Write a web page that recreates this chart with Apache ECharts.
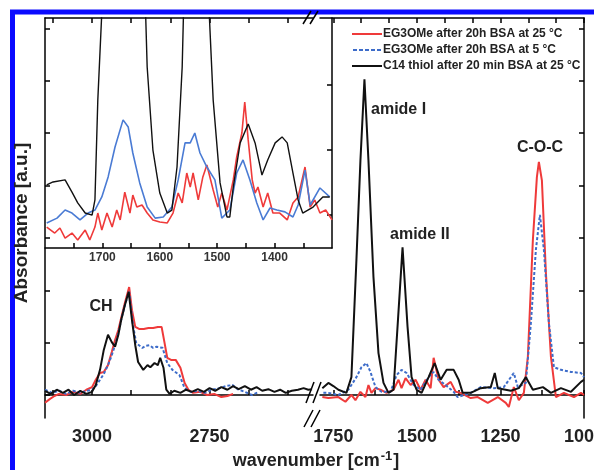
<!DOCTYPE html>
<html>
<head>
<meta charset="utf-8">
<script src="https://cdn.jsdelivr.net/npm/echarts@6/dist/echarts.min.js"></script>
<style>
  html, body { margin: 0; padding: 0; background: #fff; }
  #chart { width: 594px; height: 470px; }
</style>
</head>
<body>
<div id="chart"></div>
<script>
// IR spectra, broken wavenumber axis + inset of the amide region
var FONT = "'Liberation Sans', Arial, sans-serif";
var RED = '#ef3a3a', BLUE = '#3d6cc9', BLACK = '#111111';

var seriesNames = ['EG3OMe after 20h BSA at 25 °C', 'EG3OMe after 20h BSA at 5 °C', 'C14 thiol after 20 min BSA at 25 °C'];

// main plot, CH stretch region  [wavenumber, absorbance]
var redCH = [[3100,-0.15],[3090,-0.08],[3080,-0.02],[3070,0.02],[3055,0],[3040,0.06],[3025,0.02],[3012,0.1],[3000,0.15],[2992,0.29],[2983,0.42],[2975,0.44],[2966,0.57],[2958,0.82],[2951,1.05],[2944,1.24],[2938,1.47],[2930,1.76],[2921,2.06],[2915,1.62],[2908,1.3],[2900,1.26],[2890,1.26],[2880,1.28],[2870,1.28],[2860,1.3],[2852,1.3],[2846,1.01],[2840,0.71],[2832,0.67],[2822,0.67],[2812,0.52],[2803,0.23],[2795,0.1],[2785,0.04],[2770,0.06],[2755,0],[2740,0.02],[2725,-0.04],[2712,-0.02],[2700,0.02]];
var blueCH = [[3100,0.1],[3085,0.04],[3070,0.08],[3055,0.02],[3040,0.08],[3025,0.04],[3010,0.08],[3000,0.1],[2992,0.17],[2983,0.29],[2975,0.4],[2966,0.57],[2958,0.76],[2951,0.95],[2944,1.18],[2938,1.43],[2930,1.72],[2921,1.97],[2913,1.34],[2906,0.99],[2893,0.9],[2885,0.94],[2878,0.95],[2870,0.9],[2863,0.92],[2850,0.9],[2840,0.61],[2829,0.48],[2814,0.38],[2803,0.13],[2790,0.06],[2775,0.08],[2760,0.04],[2745,0.1],[2730,0.13],[2715,0.17],[2701,0.19],[2690,0.11],[2675,0.06],[2660,0],[2645,0.06]];
var blackCH = [[3100,0.08],[3088,0.02],[3075,0.1],[3062,0.04],[3050,0.1],[3038,0],[3025,0.08],[3012,0.02],[3000,0.06],[2992,0.19],[2983,0.48],[2975,0.86],[2966,1.15],[2958,1.01],[2951,0.92],[2944,1.15],[2938,1.43],[2930,1.72],[2922,1.97],[2915,1.43],[2908,0.95],[2902,0.63],[2891,0.48],[2882,0.57],[2876,0.53],[2867,0.61],[2860,0.57],[2855,0.71],[2848,0.52],[2842,0.1],[2835,0.02],[2825,0.08],[2812,0.04],[2800,0.1],[2788,0.06],[2775,0.11],[2762,0.06],[2750,0.13],[2738,0.08],[2725,0.15],[2712,0.1],[2700,0.17],[2688,0.11],[2675,0.17],[2662,0.1],[2650,0.15],[2638,0.08],[2625,0.11],[2612,0.06],[2600,0.1],[2588,0.04],[2575,0.08],[2562,0.1],[2550,0.13],[2540,0.1],[2532,0.11]];

// main plot, fingerprint region
var redFP = [[1783,-0.04],[1765,-0.06],[1735,-0.04],[1714,-0.13],[1696,0],[1684,-0.1],[1669,0.06],[1654,-0.04],[1645,0.19],[1636,0.04],[1624,0.13],[1609,0.1],[1591,0.04],[1570,0.1],[1555,0.29],[1546,0.13],[1534,0.32],[1519,0.19],[1504,0.29],[1489,0.1],[1474,0.29],[1459,0.13],[1450,0.71],[1435,0.29],[1420,0.15],[1399,0.25],[1384,0.06],[1369,0.04],[1339,-0.06],[1318,-0.04],[1288,-0.15],[1258,-0.04],[1234,-0.15],[1225,-0.23],[1210,0.15],[1195,-0.1],[1180,0.04],[1168,0.73],[1153,2.96],[1141,4.16],[1135,4.45],[1126,4.1],[1114,2.33],[1099,0.73],[1084,-0.04],[1060,0.04],[1030,-0.04],[1009,0.04],[1000,0]];
var blueFP = [[1780,0.04],[1765,0.04],[1735,0],[1705,0.1],[1681,0.34],[1666,0.53],[1651,0.61],[1639,0.44],[1624,0.15],[1606,0.06],[1579,0.06],[1561,0.38],[1546,0.48],[1531,0.42],[1510,0.19],[1489,0.1],[1465,0.34],[1450,0.44],[1435,0.29],[1414,0.19],[1390,0.06],[1378,-0.04],[1339,0.04],[1309,0.15],[1270,0.13],[1240,0.15],[1210,0.42],[1198,0.15],[1174,0.23],[1159,1.37],[1144,2.77],[1132,3.44],[1120,2.77],[1105,1.37],[1090,0.53],[1069,0.48],[1039,0.44],[1009,0.42],[1000,0.34]];
var blackFP = [[1783,0.13],[1765,0.23],[1750,0.17],[1735,0.1],[1711,0.04],[1696,0.34],[1681,2.58],[1669,4.48],[1657,6.03],[1645,4.48],[1630,2.25],[1615,0.8],[1600,0.23],[1585,0.04],[1570,0.1],[1558,1.3],[1543,2.82],[1528,1.3],[1516,0.34],[1501,0.1],[1486,0.04],[1465,0.34],[1447,0.61],[1429,0.29],[1411,0.48],[1390,0.48],[1375,0.29],[1363,0.04],[1339,0.04],[1309,0.13],[1279,0.15],[1267,0.42],[1258,0.13],[1219,0.08],[1195,0.13],[1174,0.34],[1153,0.1],[1123,0.15],[1099,0.04],[1069,0.13],[1039,0.06],[1009,0.25],[1000,0.29]];

// inset (magnified amide region)
var redInset = [[1797,0.91],[1783,0.65],[1774,0.87],[1765,0.43],[1753,0.65],[1743,0.35],[1730,0.78],[1722,0.35],[1713,0.91],[1708,1.52],[1701,0.78],[1692,1.52],[1683,0.91],[1675,1.65],[1669,1.22],[1661,2.43],[1652,1.52],[1647,2.3],[1640,1.78],[1631,1.87],[1622,1.52],[1612,1.22],[1600,1.13],[1587,1.09],[1577,1.52],[1568,2.39],[1561,1.96],[1553,3.26],[1547,2.65],[1542,3.26],[1533,2.09],[1525,3.09],[1518,3.61],[1507,2.52],[1499,1.78],[1492,2.39],[1483,1.65],[1472,2.96],[1466,3.96],[1457,5.0],[1452,6.35],[1446,4.7],[1439,2.96],[1434,2.39],[1429,2.65],[1420,1.78],[1412,2.39],[1403,1.52],[1391,1.52],[1378,1.22],[1368,1.96],[1359,2.22],[1347,3.52],[1338,1.78],[1330,2.09],[1321,1.52],[1311,1.65],[1300,1.22]];
var blueInset = [[1797,1.09],[1779,1.3],[1765,1.65],[1753,1.52],[1739,1.22],[1725,1.52],[1713,1.65],[1701,2.22],[1690,3.09],[1678,4.39],[1664,5.57],[1655,5.26],[1647,4.13],[1635,2.83],[1622,1.78],[1608,1.3],[1594,1.35],[1579,1.78],[1568,2.96],[1556,4.57],[1547,4.57],[1539,5.0],[1530,4.13],[1518,3.52],[1504,2.96],[1492,1.3],[1478,1.65],[1466,3.26],[1455,3.83],[1443,2.96],[1431,1.96],[1420,1.22],[1408,1.74],[1396,1.65],[1382,1.57],[1368,1.35],[1359,1.87],[1347,3.39],[1338,1.87],[1321,2.61],[1304,2.22]];
var blackInset = [[1797,2.74],[1786,2.87],[1765,2.96],[1753,2.43],[1743,1.96],[1730,1.52],[1718,1.43],[1713,2.09],[1708,6.43],[1696,13],[1628,13],[1622,7.87],[1612,4.26],[1600,2.39],[1587,1.52],[1579,1.65],[1570,3.52],[1561,7.87],[1556,13],[1519,13],[1507,6.43],[1495,2.83],[1483,1.35],[1478,1.35],[1472,2.65],[1460,4.57],[1446,5.39],[1434,4.57],[1422,3.17],[1412,3.83],[1399,4.57],[1387,4.83],[1378,4.57],[1368,3.26],[1359,2.09],[1351,1.52],[1333,1.78],[1316,2.22],[1304,2.22]];

// ticks / labels
var chTicks = [3083.3, 3000, 2916.7, 2833.3, 2750, 2666.7, 2583.3];
var chLabels = [3000, 2750];
var fpTicks = [1750, 1625, 1500, 1375, 1250, 1125, 1000];
var fpTopTicks = [1750, 1666.7, 1583.3, 1500, 1416.7, 1333.3, 1250, 1166.7, 1083.3, 1000];
var fpLabels = [1750, 1500, 1250, 1000];
var insetTicks = [1750, 1700, 1650, 1600, 1550, 1500, 1450, 1400, 1350];
var insetLabels = [1700, 1600, 1500, 1400];
var absTicks = [0, 1, 2, 3, 4, 5, 6, 7];
var insetYTicks = [1.43, 4.26, 7.09];

var myChart = echarts.init(document.getElementById('chart'));

var axLine = { show: true, lineStyle: { color: '#000', width: 1.5 } };
function tickIn(vals) {
    return { show: true, inside: true, length: 5, customValues: vals, lineStyle: { color: '#000', width: 1.5 } };
}
function plain(v) { return String(v); }
var bigLabel = { fontFamily: FONT, fontWeight: 'bold', fontSize: 18, color: '#222', margin: 10, formatter: plain };

function line(name, data, xi, yi, color, width, dashed) {
    return {
        name: name, type: 'line', xAxisIndex: xi, yAxisIndex: yi, data: data,
        symbol: 'none', clip: true, silent: true,
        lineStyle: { color: color, width: width, type: dashed ? [3, 2] : 'solid' },
        itemStyle: { color: color }
    };
}

// legend glyphs: plain bar for solid, broken bar for dashed
var solidIcon = 'rect';
var dashIcon = 'path://M0,0h4v2h-4zM6,0h4v2h-4zM12,0h4v2h-4zM18,0h4v2h-4zM24,0h4v2h-4z';

var option = {
    animation: false,
    backgroundColor: '#fff',
    grid: [
        { left: 45, right: 281, top: 18, bottom: 52, outerBoundsMode: 'none' },
        { left: 320, right: 10, top: 18, bottom: 52, outerBoundsMode: 'none' },
        { left: 45, right: 262, top: 18, bottom: 222, outerBoundsMode: 'none' }
    ],
    legend: {
        data: [
            { name: seriesNames[0], icon: solidIcon },
            { name: seriesNames[1], icon: dashIcon },
            { name: seriesNames[2], icon: solidIcon }
        ],
        orient: 'vertical', left: 347, top: 22,
        itemWidth: 30, itemHeight: 2, itemGap: 2,
        textStyle: { fontFamily: FONT, fontWeight: 'bold', fontSize: 12, color: '#222', padding: [0, 0, 0, -4], lineHeight: 14 }
    },
    xAxis: [
        { gridIndex: 0, type: 'value', position: 'bottom', inverse: true, min: 2530, max: 3100,
          axisLine: axLine, axisTick: tickIn(chTicks), splitLine: { show: false },
          axisLabel: Object.assign({ customValues: chLabels }, bigLabel) },
        { gridIndex: 0, type: 'value', position: 'top', inverse: true, min: 2530, max: 3100,
          axisLine: axLine, axisTick: tickIn(chTicks), splitLine: { show: false }, axisLabel: { show: false } },
        { gridIndex: 1, type: 'value', position: 'bottom', inverse: true, min: 1000, max: 1790,
          axisLine: axLine, axisTick: tickIn(fpTicks), splitLine: { show: false },
          axisLabel: Object.assign({ customValues: fpLabels }, bigLabel) },
        { gridIndex: 1, type: 'value', position: 'top', inverse: true, min: 1000, max: 1790,
          axisLine: axLine, axisTick: tickIn(fpTopTicks), splitLine: { show: false }, axisLabel: { show: false } },
        { gridIndex: 2, type: 'value', position: 'bottom', inverse: true, min: 1300, max: 1800,
          axisLine: axLine, axisTick: tickIn(insetTicks), splitLine: { show: false },
          axisLabel: { customValues: insetLabels, fontFamily: FONT, fontWeight: 'bold', fontSize: 12, color: '#333', margin: 4, formatter: plain } }
    ],
    yAxis: [
        { gridIndex: 0, type: 'value', position: 'left', min: -0.44, max: 7.2,
          axisLine: axLine, axisTick: tickIn(absTicks), axisLabel: { show: false }, splitLine: { show: false } },
        { gridIndex: 1, type: 'value', position: 'right', min: -0.44, max: 7.2,
          axisLine: axLine, axisTick: tickIn(absTicks), axisLabel: { show: false }, splitLine: { show: false } },
        { gridIndex: 2, type: 'value', position: 'right', min: 0, max: 10,
          axisLine: axLine, axisTick: tickIn(insetYTicks), axisLabel: { show: false }, splitLine: { show: false } }
    ],
    series: [
        line(seriesNames[0], redCH, 0, 0, RED, 2, false),
        line(seriesNames[1], blueCH, 0, 0, BLUE, 2, true),
        line(seriesNames[2], blackCH, 0, 0, BLACK, 2, false),
        line(seriesNames[0], redFP, 2, 1, RED, 2, false),
        line(seriesNames[1], blueFP, 2, 1, BLUE, 2, true),
        line(seriesNames[2], blackFP, 2, 1, BLACK, 2, false),
        line('inset red', redInset, 4, 2, RED, 1.6, false),
        line('inset blue', blueInset, 4, 2, '#4a7bd4', 1.6, false),
        line('inset black', blackInset, 4, 2, BLACK, 1.4, false)
    ],
    graphic: [
        // blue frame
        { type: 'line', shape: { x1: 10, y1: 12, x2: 594, y2: 12 }, style: { stroke: '#0a0aff', lineWidth: 5 } },
        { type: 'line', shape: { x1: 12.5, y1: 10, x2: 12.5, y2: 470 }, style: { stroke: '#0a0aff', lineWidth: 5 } },
        // axis break marks
        { type: 'line', shape: { x1: 303, y1: 24, x2: 311, y2: 11 }, style: { stroke: '#000', lineWidth: 1.5 } },
        { type: 'line', shape: { x1: 310, y1: 24, x2: 318, y2: 11 }, style: { stroke: '#000', lineWidth: 1.5 } },
        { type: 'line', shape: { x1: 306, y1: 403, x2: 314, y2: 382 }, style: { stroke: '#000', lineWidth: 1.5 } },
        { type: 'line', shape: { x1: 313, y1: 403, x2: 321, y2: 382 }, style: { stroke: '#000', lineWidth: 1.5 } },
        { type: 'line', shape: { x1: 304, y1: 427, x2: 313, y2: 410 }, style: { stroke: '#000', lineWidth: 1.5 } },
        { type: 'line', shape: { x1: 311, y1: 427, x2: 320, y2: 410 }, style: { stroke: '#000', lineWidth: 1.5 } },
        // peak labels
        { type: 'text', x: 371, y: 110, style: { text: 'amide I', fill: '#222', font: 'bold 16px ' + FONT, verticalAlign: 'middle' } },
        { type: 'text', x: 390, y: 235, style: { text: 'amide II', fill: '#222', font: 'bold 16px ' + FONT, verticalAlign: 'middle' } },
        { type: 'text', x: 540, y: 148, style: { text: 'C-O-C', fill: '#222', font: 'bold 16px ' + FONT, align: 'center', verticalAlign: 'middle' } },
        { type: 'text', x: 101, y: 307, style: { text: 'CH', fill: '#222', font: 'bold 16px ' + FONT, align: 'center', verticalAlign: 'middle' } },
        // axis titles
        { type: 'text', x: 22, y: 223, rotation: Math.PI / 2,
          style: { text: 'Absorbance [a.u.]', fill: '#222', font: 'bold 19px ' + FONT, align: 'center', verticalAlign: 'middle' } },
        { type: 'text', x: 316, y: 461,
          style: { text: '{a|wavenumber [cm}{s|-1}{a|]}', align: 'center', verticalAlign: 'middle',
                   rich: { a: { fontFamily: FONT, fontWeight: 'bold', fontSize: 18, fill: '#222' },
                           s: { fontFamily: FONT, fontWeight: 'bold', fontSize: 13, fill: '#222', padding: [0, 1, 9, 1] } } } }
    ]
};

myChart.setOption(option);
</script>
</body>
</html>
